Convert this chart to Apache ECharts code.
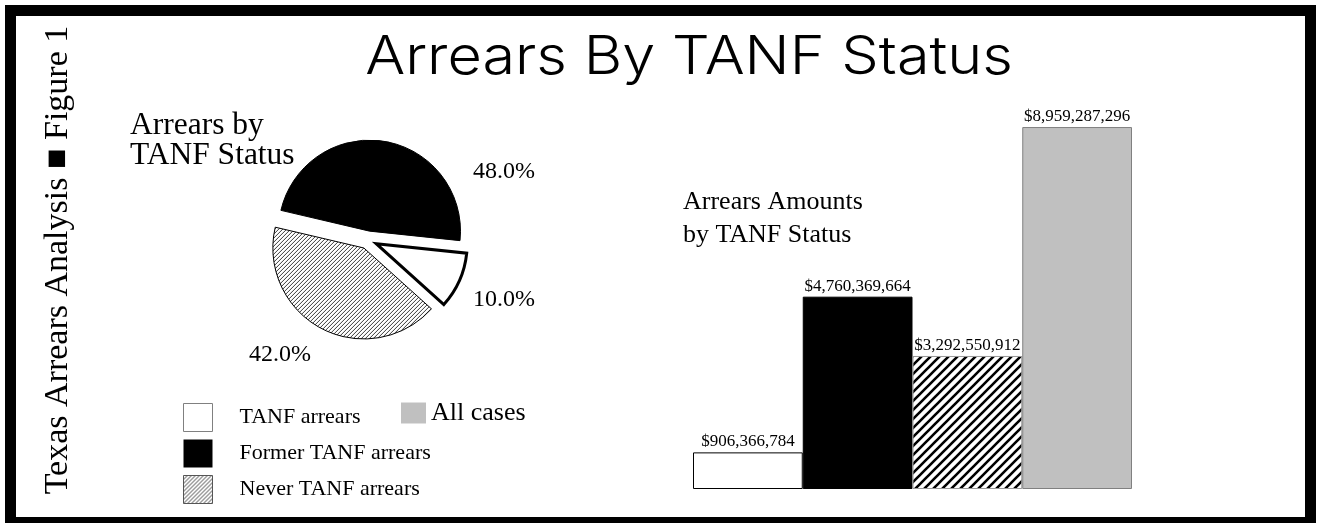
<!DOCTYPE html>
<html>
<head>
<meta charset="utf-8">
<script src="https://cdn.jsdelivr.net/npm/echarts@6/dist/echarts.min.js"></script>
<style>
  html, body { margin: 0; padding: 0; background: #fff; }
  #chart { width: 1317px; height: 523px; }
</style>
</head>
<body>
<div id="chart"></div>
<script>
// Share of arrears by TANF status (pie)
const statusNames = ['TANF arrears', 'Former TANF arrears', 'Never TANF arrears'];
const shareOfArrears = [10.0, 48.0, 42.0];

// Arrears amounts by TANF status (bars)
const amountCategories = ['TANF arrears', 'Former TANF arrears', 'Never TANF arrears', 'All cases'];
const arrearsAmounts = [906366784, 4760369664, 3292550912, 8959287296];
const amountAxisMax = 10000000000;

const serif = "'Liberation Serif', 'Times New Roman', serif";

// Diagonal "/" hatch tile used as a repeating fill
function hatchTile(size, lineWidth, stroke, background) {
  const c = document.createElement('canvas');
  c.width = size; c.height = size;
  const g = c.getContext('2d');
  g.fillStyle = background;
  g.fillRect(0, 0, size, size);
  g.strokeStyle = stroke;
  g.lineWidth = lineWidth;
  g.beginPath();
  [0, size, 2 * size].forEach(k => {
    g.moveTo(-size, k + size);
    g.lineTo(k + size, -size);
  });
  g.stroke();
  return c;
}

const fineHatch = { image: hatchTile(4, 1, '#3a3a3a', '#ffffff'), repeat: 'repeat' };
const boldHatch = { image: hatchTile(9, 2.6, '#000000', '#ffffff'), repeat: 'repeat' };

const sliceStyles = [
  { color: '#ffffff', borderColor: '#000', borderWidth: 3, borderJoin: 'miter' },
  { color: '#000000', borderColor: '#000', borderWidth: 1 },
  { color: fineHatch, borderColor: '#000', borderWidth: 1 }
];
const barStyles = [
  { color: '#ffffff', borderColor: '#000', borderWidth: 1 },
  { color: '#000000', borderColor: '#000', borderWidth: 1 },
  { color: boldHatch, borderColor: '#999', borderWidth: 1 },
  { color: '#c0c0c0', borderColor: '#808080', borderWidth: 1 }
];
const legendIcons = [
  { color: '#ffffff', borderColor: '#808080', borderWidth: 1 },
  { color: '#000000', borderWidth: 0 },
  { color: fineHatch, borderColor: '#555', borderWidth: 1 }
];

// Where each percentage label sits beside the pie
const pieLabelSpots = [[504, 300], [504, 172], [280, 355]];

const chart = echarts.init(document.getElementById('chart'), null, { renderer: 'canvas' });

chart.setOption({
  animation: false,
  backgroundColor: '#fff',
  graphic: [
    {
      type: 'rect', z: 100, silent: true,
      shape: { x: 10.5, y: 10.5, width: 1300, height: 512 },
      style: { fill: 'none', stroke: '#000', lineWidth: 11 }
    },
    {
      type: 'text', x: 689, y: 58, scaleX: 1.12, silent: true,
      style: {
        text: 'Arrears By TANF Status', align: 'center', verticalAlign: 'middle',
        font: "300 53px Inter, 'Liberation Sans', Arial, sans-serif", fill: '#000'
      }
    },
    {
      type: 'text', x: 58, y: 260, rotation: Math.PI / 2, silent: true,
      style: {
        text: 'Texas Arrears Analysis ■ Figure 1', align: 'center', verticalAlign: 'middle',
        font: "34px " + serif, fill: '#000'
      }
    },
    {
      type: 'text', x: 130, y: 111, silent: true,
      style: {
        text: 'Arrears by\nTANF Status', align: 'left', verticalAlign: 'top',
        font: "31.5px " + serif, lineHeight: 30, fill: '#000'
      }
    },
    {
      type: 'text', x: 683, y: 186, silent: true,
      style: {
        text: 'Arrears Amounts\nby TANF Status', align: 'left', verticalAlign: 'top',
        font: "26px " + serif, lineHeight: 33, fill: '#000'
      }
    },
    // Percentage labels for the pie slices
    ...shareOfArrears.map((v, i) => ({
      type: 'text', x: pieLabelSpots[i][0], y: pieLabelSpots[i][1], silent: true,
      style: {
        text: v.toFixed(1) + '%', align: 'center', verticalAlign: 'middle',
        font: "24px " + serif, fill: '#000'
      }
    }))
  ],
  legend: [
    {
      orient: 'vertical', left: 183, top: 403, padding: 0,
      itemWidth: 29, itemHeight: 28, itemGap: 7.5, icon: 'rect',
      selectedMode: false,
      textStyle: { fontFamily: serif, fontSize: 22, color: '#000', padding: [0, 0, 0, 22] },
      data: statusNames.map((n, i) => ({ name: n, itemStyle: legendIcons[i] }))
    },
    {
      left: 401, top: 400, padding: 0,
      itemWidth: 25, itemHeight: 21, icon: 'rect',
      selectedMode: false,
      textStyle: { fontFamily: serif, fontSize: 26, color: '#000' },
      data: [{ name: 'All cases', itemStyle: { color: '#c0c0c0', borderWidth: 0 } }]
    }
  ],
  grid: { left: 693, right: 185, top: 85, bottom: 34 },
  xAxis: {
    type: 'category', data: amountCategories, show: false
  },
  yAxis: {
    type: 'value', min: 0, max: amountAxisMax, show: false
  },
  series: [
    {
      type: 'pie',
      name: 'Arrears by TANF Status',
      center: [368, 240],
      radius: [0, 91],
      startAngle: 318,
      clockwise: false,
      selectedMode: 'multiple',
      selectedOffset: 9,
      emphasis: { disabled: true },
      label: { show: false },
      labelLine: { show: false },
      data: statusNames.map((n, i) => ({
        name: n, value: shareOfArrears[i], selected: true, itemStyle: sliceStyles[i]
      }))
    },
    ...amountCategories.map((n, i) => ({
      type: 'bar',
      name: n,
      stack: 'amounts',
      barCategoryGap: 0,
      emphasis: { disabled: true },
      itemStyle: barStyles[i],
      label: {
        show: true, position: 'top', distance: 2,
        formatter: p => '$' + p.value.toLocaleString('en-US'),
        fontFamily: serif, fontSize: 17, color: '#000'
      },
      data: arrearsAmounts.map((v, j) => (j === i ? v : '-'))
    }))
  ]
});
</script>
</body>
</html>
